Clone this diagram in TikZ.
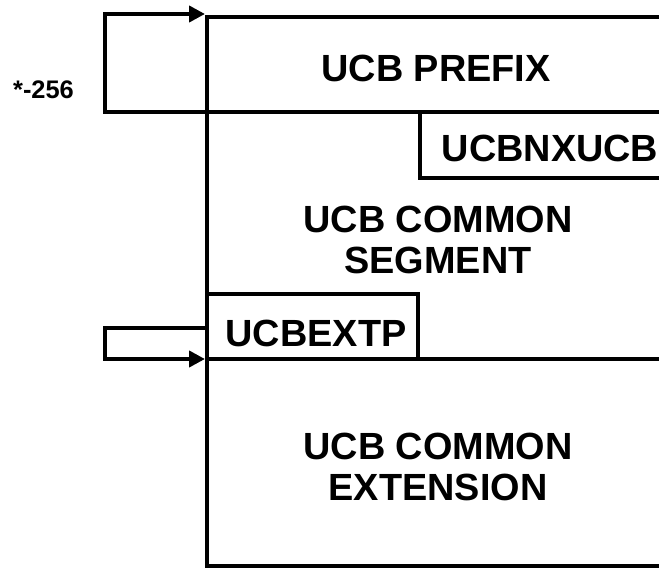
\documentclass[tikz,border=0pt]{standalone}
\usepackage{fontspec}
\setmainfont{Liberation Sans}
\usetikzlibrary{arrows.meta}
\begin{document}
\begin{tikzpicture}[x=1bp,y=-1bp,
  wall/.style={line width=4bp,line join=miter},
  loop/.style={line width=4bp,line join=miter,-{Triangle[length=16bp,width=16bp]}},
  lbl/.style={anchor=base,inner sep=0pt,font=\fontsize{38}{38}\selectfont\bfseries},
  small/.style={anchor=base,inner sep=0pt,font=\fontsize{25.5}{25.5}\selectfont\bfseries}]
\useasboundingbox (0,0) rectangle (659,569);
% named coordinates
\coordinate (topL) at (207,17);
\coordinate (topR) at (659,17);
\coordinate (botL) at (207,566);
\coordinate (botR) at (659,566);
\coordinate (prefB) at (659,112);
\coordinate (loopA) at (105,112);
\coordinate (loopB) at (105,14);
\coordinate (loopT) at (205,14);
\coordinate (nxTL) at (420,112);
\coordinate (nxBL) at (420,178);
\coordinate (nxBR) at (659,178);
\coordinate (exTL) at (207,294);
\coordinate (exTR) at (418,294);
\coordinate (exBR) at (418,359);
\coordinate (exBL) at (207,359);
\coordinate (segR) at (659,359);
\coordinate (l2a) at (207,328);
\coordinate (l2b) at (105,328);
\coordinate (l2c) at (105,359);
\coordinate (l2t) at (205,359);
% main frame
\draw[wall] (topR) -- (topL) -- (botL) -- (botR);
% prefix bottom and loop
\draw[loop] (prefB) -- (loopA) -- (loopB) -- (loopT);
% UCBNXUCB box
\draw[wall] (nxTL) -- (nxBL) -- (nxBR);
% UCBEXTP box
\draw[wall] (exTL) -- (exTR) -- (exBR);
\draw[wall] (exBL) -- (segR);
% extension loop
\draw[loop] (l2a) -- (l2b) -- (l2c) -- (l2t);
% labels
\node[small] (k) at (43.5,98.3) {*-256};
\node[lbl] (p) at (436,81.7) {UCB PREFIX};
\node[lbl] (nx) at (550,161.7) {UCBNXUCB};
\node[lbl] (s1) at (438,232.3) {UCB COMMON};
\node[lbl] (s2) at (438,273.3) {SEGMENT};
\node[lbl] (ex) at (316,346.7) {UCBEXTP};
\node[lbl] (e1) at (438,459) {UCB COMMON};
\node[lbl] (e2) at (438,500.7) {EXTENSION};
\end{tikzpicture}
\end{document}
